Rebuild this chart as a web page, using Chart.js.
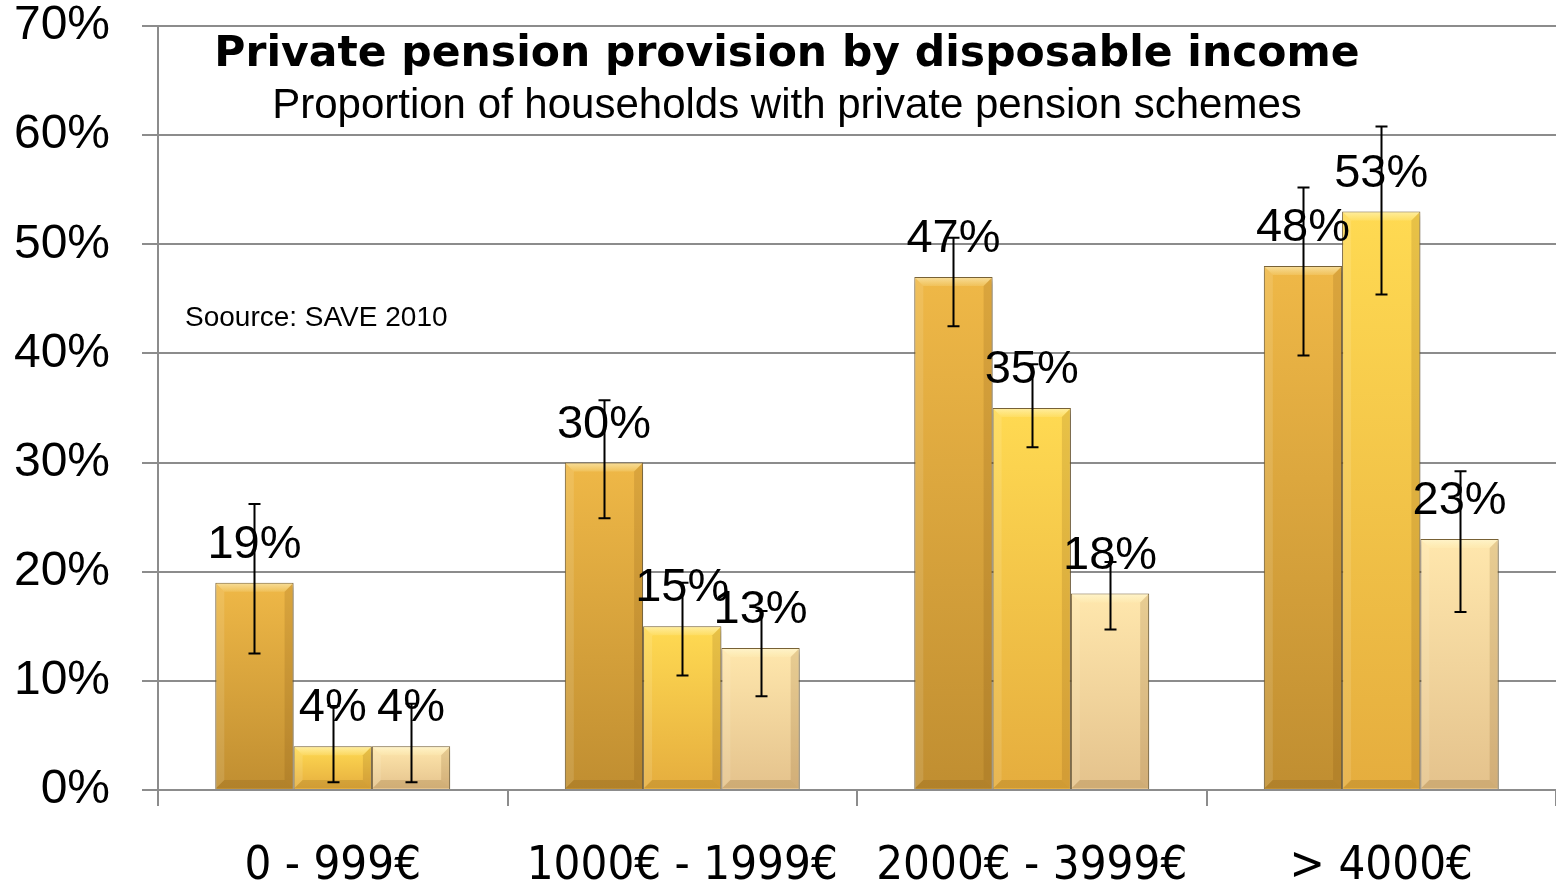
<!DOCTYPE html>
<html>
<head>
<meta charset="utf-8">
<script src="https://cdn.jsdelivr.net/npm/chart.js@4.4.0/dist/chart.umd.min.js"></script>
<style>
  html, body { margin: 0; padding: 0; background: #ffffff; }
  canvas { display: block; }
</style>
</head>
<body>
<canvas id="chart" width="1556" height="888"></canvas>
<script>
// Income bands (monthly disposable household income)
const incomeBands = ['0 - 999€', '1000€ - 1999€', '2000€ - 3999€', '> 4000€'];

// Share of households with a private pension scheme, in %
const seriesA = [19, 30, 47, 48];
const seriesB = [4, 15, 35, 53];
const seriesC = [4, 13, 18, 23];

// Confidence interval bounds for each bar, in %
const seriesALow  = [12.5, 24.9, 42.5, 39.8];
const seriesAHigh = [26.2, 35.7, 50.6, 55.2];
const seriesBLow  = [0.7, 10.5, 31.4, 45.4];
const seriesBHigh = [7.7, 19.0, 39.0, 60.8];
const seriesCLow  = [0.7, 8.6, 14.7, 16.3];
const seriesCHigh = [7.9, 16.4, 20.9, 29.2];

// Value axis range and step, in %
const yMin = 0;
const yMax = 70;
const yStep = 10;

const titleText = 'Private pension provision by disposable income';
const subtitleText = 'Proportion of households with private pension schemes';
const sourceText = 'Soource: SAVE 2010';

// Top / bottom colours of the bar fills
const fills = [
  ['#EFB847', '#C08E31'],
  ['#FFDA52', '#E5AD3E'],
  ['#FFE7AD', '#E4C28C']
];

const errorBounds = [
  [seriesALow, seriesAHigh],
  [seriesBLow, seriesBHigh],
  [seriesCLow, seriesCHigh]
];

function barFill(index) {
  return function (ctx) {
    const chart = ctx.chart;
    if (!chart.chartArea || ctx.raw == null) return fills[index][0];
    const y = chart.scales.y;
    const top = y.getPixelForValue(ctx.raw);
    const bottom = y.getPixelForValue(0);
    const g = chart.ctx.createLinearGradient(0, top, 0, bottom);
    g.addColorStop(0, fills[index][0]);
    g.addColorStop(1, fills[index][1]);
    return g;
  };
}

// Soft drop shadow under the bars, then bevelled edges
const barShadow = {
  id: 'barShadow',
  beforeDatasetDraw(chart) {
    const ctx = chart.ctx;
    ctx.save();
    ctx.shadowColor = 'rgba(0,0,0,0.35)';
    ctx.shadowBlur = 6;
    ctx.shadowOffsetX = 1;
    ctx.shadowOffsetY = 3;
  },
  afterDatasetDraw(chart, args) {
    const ctx = chart.ctx;
    ctx.restore();
    const b = 9;
    args.meta.data.forEach(bar => {
      const p = bar.getProps(['x', 'y', 'base', 'width'], true);
      const l = p.x - p.width / 2, r = p.x + p.width / 2;
      const t = p.y, bt = p.base;
      if (bt - t < 2 * b) return;
      ctx.save();
      const gt = ctx.createLinearGradient(0, t, 0, t + b);
      gt.addColorStop(0, 'rgba(255,255,230,0.55)');
      gt.addColorStop(1, 'rgba(255,250,200,0.15)');
      ctx.fillStyle = gt;
      ctx.beginPath();
      ctx.moveTo(l + 1, t + 1); ctx.lineTo(r - 1, t + 1);
      ctx.lineTo(r - b, t + b); ctx.lineTo(l + b, t + b);
      ctx.closePath(); ctx.fill();
      ctx.fillStyle = 'rgba(255,255,235,0.12)';
      ctx.beginPath();
      ctx.moveTo(l + 1, t + 1); ctx.lineTo(l + b, t + b);
      ctx.lineTo(l + b, bt - b); ctx.lineTo(l + 1, bt - 1);
      ctx.closePath(); ctx.fill();
      ctx.fillStyle = 'rgba(110,70,10,0.16)';
      ctx.beginPath();
      ctx.moveTo(r - 1, t + 1); ctx.lineTo(r - b, t + b);
      ctx.lineTo(r - b, bt - b); ctx.lineTo(r - 1, bt - 1);
      ctx.closePath(); ctx.fill();
      ctx.fillStyle = 'rgba(110,70,10,0.18)';
      ctx.beginPath();
      ctx.moveTo(l + 1, bt - 1); ctx.lineTo(r - 1, bt - 1);
      ctx.lineTo(r - b, bt - b); ctx.lineTo(l + b, bt - b);
      ctx.closePath(); ctx.fill();
      ctx.restore();
    });
  }
};

// Value labels and error bars
const labelsAndErrors = {
  id: 'labelsAndErrors',
  afterDatasetsDraw(chart) {
    const ctx = chart.ctx;
    const yScale = chart.scales.y;
    ctx.save();
    chart.data.datasets.forEach((ds, di) => {
      const meta = chart.getDatasetMeta(di);
      meta.data.forEach((bar, i) => {
        const v = ds.data[i];
        ctx.fillStyle = '#000';
        ctx.font = '47px "Liberation Sans", Arial, sans-serif';
        ctx.textAlign = 'center';
        ctx.textBaseline = 'alphabetic';
        ctx.fillText(v + '%', bar.x, yScale.getPixelForValue(v) - 25);
      });
    });
    chart.data.datasets.forEach((ds, di) => {
      const meta = chart.getDatasetMeta(di);
      const [lo, hi] = errorBounds[di];
      meta.data.forEach((bar, i) => {
        const y1 = yScale.getPixelForValue(lo[i]);
        const y2 = yScale.getPixelForValue(hi[i]);
        const x = Math.round(bar.x) + 0.5;
        ctx.strokeStyle = '#000';
        ctx.lineWidth = 2;
        ctx.beginPath();
        ctx.moveTo(x, y1); ctx.lineTo(x, y2);
        ctx.moveTo(x - 6, y1); ctx.lineTo(x + 6, y1);
        ctx.moveTo(x - 6, y2); ctx.lineTo(x + 6, y2);
        ctx.stroke();
      });
    });
    ctx.restore();
  }
};

// Title, subtitle and source note drawn inside the plot area
const headings = {
  id: 'headings',
  afterDraw(chart) {
    const ctx = chart.ctx;
    const area = chart.chartArea;
    ctx.save();
    ctx.fillStyle = '#000';
    ctx.textAlign = 'center';
    ctx.textBaseline = 'alphabetic';
    const cx = 787;
    ctx.font = 'bold 42.5px "DejaVu Sans", Verdana, sans-serif';
    ctx.fillText(titleText, cx, area.top + 40);
    ctx.font = '42px "Liberation Sans", Arial, sans-serif';
    ctx.fillText(subtitleText, cx, area.top + 92);
    ctx.textAlign = 'left';
    ctx.font = '28px "Liberation Sans", Arial, sans-serif';
    ctx.fillText(sourceText, area.left + 27, area.top + 300);
    ctx.restore();
  }
};

const dataSeries = [seriesA, seriesB, seriesC];

new Chart(document.getElementById('chart'), {
  type: 'bar',
  data: {
    labels: incomeBands,
    datasets: dataSeries.map((values, i) => ({
      label: 'Series ' + (i + 1),
      data: values,
      backgroundColor: barFill(i),
      borderColor: '#7d6638',
      borderWidth: 1,
      clip: false
    }))
  },
  options: {
    responsive: false,
    animation: false,
    devicePixelRatio: 1,
    layout: { padding: { top: 0, left: 0, right: 0, bottom: 0 } },
    datasets: { bar: { categoryPercentage: 0.672, barPercentage: 1.0 } },
    plugins: {
      legend: { display: false },
      title: { display: false },
      tooltip: { enabled: false }
    },
    scales: {
      x: {
        grid: {
          offset: true,
          drawOnChartArea: false,
          drawTicks: true,
          tickLength: 16,
          color: '#8c8c8c',
          lineWidth: 2
        },
        border: { display: true, color: '#8c8c8c', width: 2 },
        ticks: {
          color: '#000',
          padding: 33,
          maxRotation: 0,
          autoSkip: false,
          font: { family: '"Liberation Sans Narrow", "DejaVu Sans Condensed", sans-serif', size: 47, lineHeight: 1.2 }
        },
        afterFit(scale) { scale.height = 98; }
      },
      y: {
        min: yMin,
        max: yMax,
        grid: {
          color: '#8c8c8c',
          lineWidth: 2,
          drawTicks: true,
          tickLength: 16
        },
        border: { display: true, color: '#8c8c8c', width: 2 },
        ticks: {
          stepSize: yStep,
          color: '#000',
          padding: 32,
          font: { family: '"Liberation Sans", Arial, sans-serif', size: 48, lineHeight: 1 },
          callback: v => v + '%'
        },
        afterFit(scale) {
          scale.width = 158;
          scale.paddingTop = 26;
          scale.paddingBottom = 0;
        }
      }
    }
  },
  plugins: [barShadow, labelsAndErrors, headings]
});
</script>
</body>
</html>
